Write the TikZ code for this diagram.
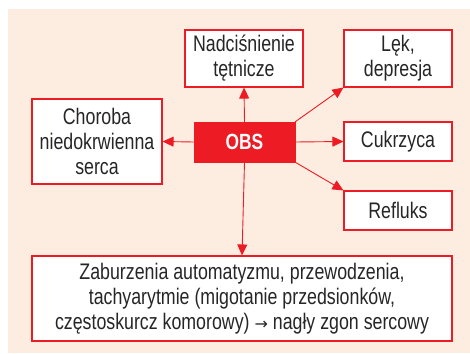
\documentclass[tikz,border=0pt]{standalone}
\usepackage{fontspec}
\setmainfont[FakeStretch=0.79]{Liberation Sans}
\usetikzlibrary{arrows.meta}
\definecolor{obsred}{RGB}{237,28,36}
\definecolor{peach}{RGB}{253,237,225}
\begin{document}
\begin{tikzpicture}[x=1pt,y=-1pt,
  box/.style={draw=obsred,line width=1.1pt,fill=white,rectangle,inner sep=0pt,align=center,
    font=\fontsize{22.5}{25}\selectfont,text=black!85},
  obsbox/.style={fill=obsred,draw=obsred,rectangle,inner sep=0pt,text=white,
    font=\fontsize{22}{25}\selectfont\bfseries},
  conn/.style={draw=obsred,line width=0.9pt,-{Triangle[length=11pt,width=10pt]}}]
\useasboundingbox (0,0) rectangle (470,353);
\fill[peach] (8,9) rectangle (470,353);
\node[box,minimum width=118,minimum height=57] (nad) at (244,58.5) {Nadciśnienie\\tętnicze};
\node[box,minimum width=108,minimum height=57] (lek) at (398,58.5) {Lęk,\\depresja};
\node[box,minimum width=130,minimum height=85] (chor) at (97,141.5) {Choroba\\niedokrwienna\\serca};
\node[box,minimum width=108,minimum height=39] (cuk) at (398,141.5) {Cukrzyca};
\node[box,minimum width=108,minimum height=39] (ref) at (398,210.5) {Refluks};
\node[box,minimum width=420,minimum height=85] (zab) at (242,298.5) {Zaburzenia automatyzmu, przewodzenia,\\tachyarytmie (migotanie przedsionków,\\częstoskurcz komorowy) {\fontspec{DejaVu Sans}\fontsize{16}{25}\selectfont→} nagły zgon sercowy};
\node[obsbox,minimum width=101,minimum height=40] (obs) at (244.5,142) {OBS};
\draw[conn] (obs.north) -- (nad.south);
\draw[conn] (obs.north east) -- (lek.south west);
\draw[conn] (obs.east) -- (cuk.west);
\draw[conn] (obs.south east) -- (ref.north west);
\draw[conn] (obs.west) -- (chor.east);
\draw[conn] (obs.south) -- (zab.north);
\end{tikzpicture}
\end{document}
